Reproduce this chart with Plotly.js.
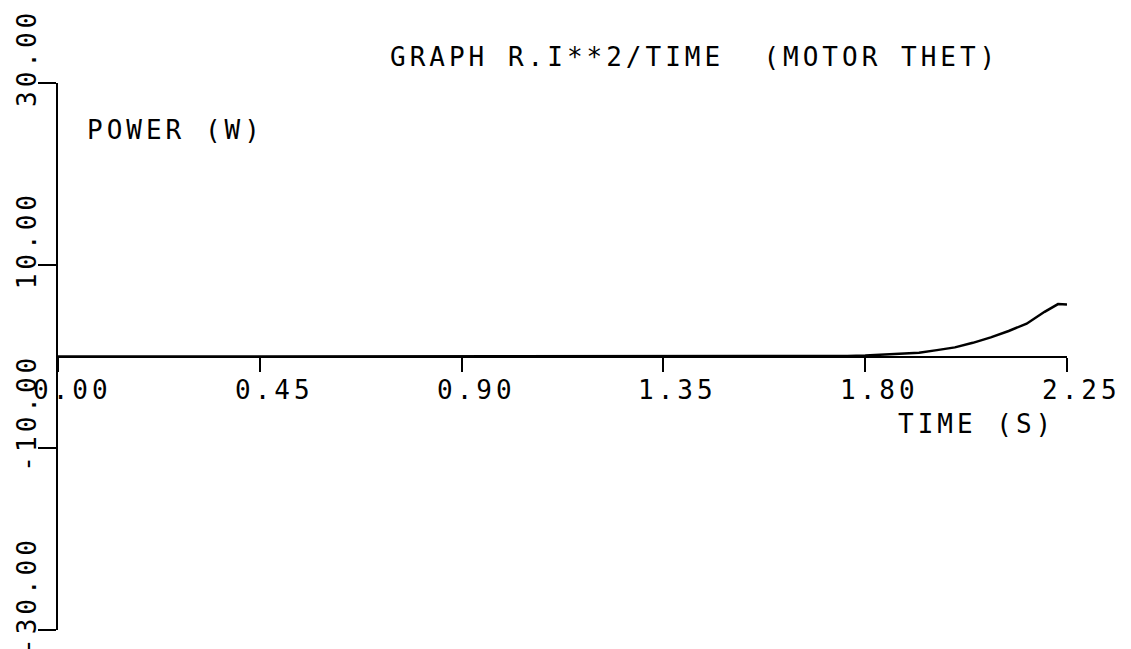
<!DOCTYPE html>
<html>
<head>
<meta charset="utf-8">
<script src="https://cdn.plot.ly/plotly-3.0.1.min.js"></script>
<style>
  html, body { margin: 0; padding: 0; background: #fff; }
  #chart { width: 1131px; height: 649px; }
  svg text { letter-spacing: 4px; }
</style>
</head>
<body>
<div id="chart"></div>
<script>
// ---- data ----
const timeS = [0, 1.72, 1.76, 1.80, 1.84, 1.88, 1.92, 1.96, 2.00, 2.04, 2.08, 2.12, 2.16, 2.20, 2.23, 2.25];
const powerW = [0, 0, 0.05, 0.10, 0.18, 0.28, 0.42, 0.70, 1.00, 1.50, 2.10, 2.80, 3.60, 4.90, 5.75, 5.70];

const xTickVals = [0, 0.45, 0.90, 1.35, 1.80, 2.25];
const xTickText = ["0.00", "0.45", "0.90", "1.35", "1.80", "2.25"];
const yTickVals = [30, 10, -10, -30];
const yTickText = ["30.00", "10.00", "-10.00", "-30.00"];

const titleText = "GRAPH R.I**2/TIME  (MOTOR THET)";
const yLabelText = "POWER (W)";
const xLabelText = "TIME (S)";

const FONT = "DejaVu Sans Mono, Liberation Mono, monospace";
const FS = 26;
const yRange = [-30, 30];

const annotations = [];
xTickVals.forEach((v, i) => {
  annotations.push({
    x: v, y: 0, xref: 'x', yref: 'y', text: xTickText[i], showarrow: false,
    xanchor: 'left', yanchor: 'middle', xshift: -27, yshift: -33,
    font: {family: FONT, size: FS, color: '#000'}
  });
});
yTickVals.forEach((v, i) => {
  annotations.push({
    x: 0, y: v, xref: 'paper', yref: 'y', text: yTickText[i], showarrow: false,
    textangle: -90, xanchor: 'center', yanchor: 'bottom', xshift: -31, yshift: -26,
    font: {family: FONT, size: FS, color: '#000'}
  });
});
annotations.push({
  x: 0, y: 30, xref: 'paper', yref: 'y', text: yLabelText, showarrow: false,
  xanchor: 'left', yanchor: 'middle', xshift: 27, yshift: -47,
  font: {family: FONT, size: FS, color: '#000'}
});
annotations.push({
  x: 1.80, y: 0, xref: 'x', yref: 'y', text: xLabelText, showarrow: false,
  xanchor: 'left', yanchor: 'middle', xshift: 31, yshift: -67,
  font: {family: FONT, size: FS, color: '#000'}
});

const data = [{
  x: timeS, y: powerW, type: 'scatter', mode: 'lines',
  line: {color: '#000', width: 2.5}, hoverinfo: 'skip'
}];

const layout = {
  width: 1131, height: 649,
  paper_bgcolor: '#fff', plot_bgcolor: '#fff',
  margin: {l: 58, r: 64, t: 83, b: 19, pad: 0},
  showlegend: false,
  title: {
    text: titleText, x: 390 / 1131, xref: 'container', xanchor: 'left',
    y: 1 - 57 / 649, yref: 'container', yanchor: 'middle',
    font: {family: FONT, size: FS, color: '#000'}
  },
  xaxis: {
    range: [0, 2.25], anchor: 'free', position: (0 - yRange[0]) / (yRange[1] - yRange[0]),
    showline: true, linecolor: '#000', linewidth: 2.5,
    tickmode: 'array', tickvals: xTickVals, ticks: 'outside', ticklen: 14,
    tickwidth: 2, tickcolor: '#000', showticklabels: false,
    showgrid: false, zeroline: false, fixedrange: true
  },
  yaxis: {
    range: yRange, showline: true, linecolor: '#000', linewidth: 2.5,
    tickmode: 'array', tickvals: yTickVals, ticks: 'outside', ticklen: 18,
    tickwidth: 2, tickcolor: '#000', showticklabels: false,
    showgrid: false, zeroline: false, fixedrange: true
  },
  annotations: annotations
};

Plotly.newPlot('chart', data, layout, {staticPlot: true, displayModeBar: false});
</script>
</body>
</html>
